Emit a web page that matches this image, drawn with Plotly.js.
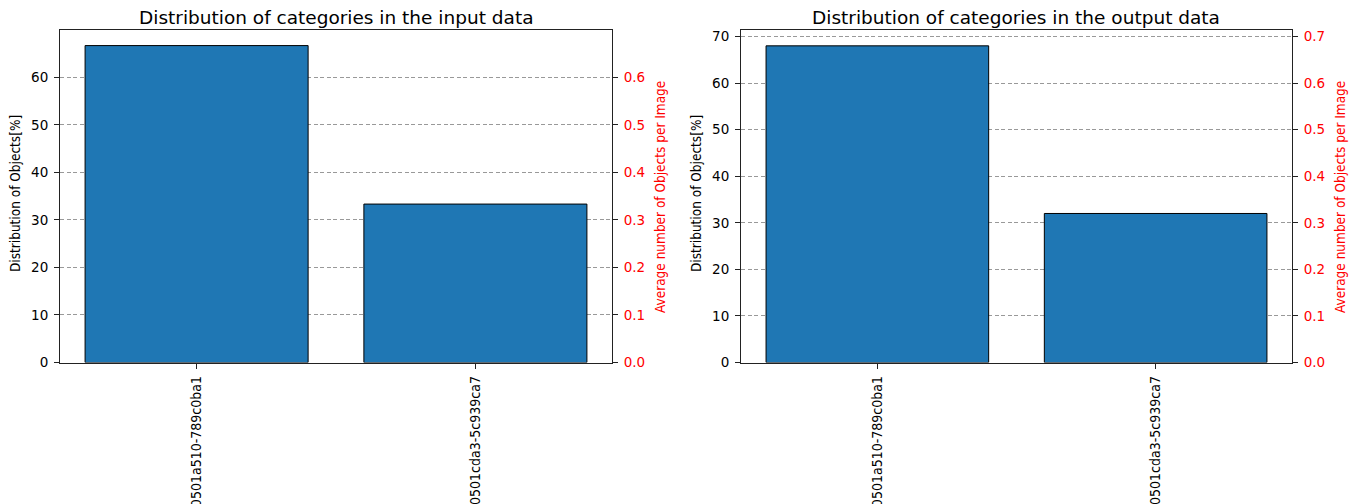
<!DOCTYPE html>
<html>
<head>
<meta charset="utf-8">
<script src="https://cdn.plot.ly/plotly-3.0.1.min.js"></script>
<style>html,body{margin:0;padding:0;background:#fff;}#chart{width:1356px;height:504px;}</style>
</head>
<body>
<div id="chart"></div>
<script>
const categories = ["0501a510-789c0ba1", "0501cda3-5c939ca7"];
const inputDistribution = [66.67, 33.33];
const outputDistribution = [68, 32];
const leftTickVals = [0, 10, 20, 30, 40, 50, 60, 70];
const rightTickVals = [0, 0.1, 0.2, 0.3, 0.4, 0.5, 0.6, 0.7];
const titles = ["Distribution of categories in the input data", "Distribution of categories in the output data"];
const yLeftTitle = "Distribution of Objects[%]";
const yRightTitle = "Average number of Objects per Image";

const W = 1356, H = 504;
const FONT = "DejaVu Sans";
const COND = "DejaVu Sans Condensed, DejaVu Sans";
const px = v => v / W;
const py = v => 1 - v / H;

const barStyle = {color: "#1f77b4", line: {color: "#000", width: 1}};
const traces = [
  {type: "bar", x: categories, y: inputDistribution, width: 0.8, marker: barStyle, xaxis: "x", yaxis: "y", hoverinfo: "none"},
  {type: "bar", x: categories, y: outputDistribution, width: 0.8, marker: barStyle, xaxis: "x2", yaxis: "y3", hoverinfo: "none"}
];

const spine = "#222";
function xAx(d0, d1, anchor) {
  return {domain: [px(d0), px(d1)], anchor: anchor, type: "category", range: [-0.49, 1.49],
    tickangle: -90, ticks: "outside", ticklen: 5, tickcolor: spine, showline: true, linecolor: spine, linewidth: 1,
    mirror: true, showgrid: false, automargin: false, ticklabelstandoff: 2,
    tickfont: {family: COND, size: 14, color: "#000"}};
}
function yLeft(anchor, top) {
  return {domain: [py(362.5), py(30)], anchor: anchor, range: [0, top], tickvals: leftTickVals,
    ticks: "outside", ticklen: 5, tickcolor: spine, showline: true, linecolor: spine, linewidth: 1,
    showgrid: true, gridcolor: "#999", gridwidth: 1, griddash: "4px,2.5px", zeroline: false, automargin: false,
    ticklabelstandoff: 3, tickfont: {family: FONT, size: 13.5, color: "#000"}};
}
function yRight(anchor, overlay, top) {
  return {domain: [py(362.5), py(30)], anchor: anchor, overlaying: overlay, side: "right", range: [0, top],
    tickvals: rightTickVals, tickformat: ".1f", ticks: "outside", ticklen: 5, tickcolor: spine, showline: true,
    linecolor: spine, linewidth: 1, showgrid: false, zeroline: false, automargin: false,
    ticklabelstandoff: 3, tickfont: {family: FONT, size: 13.5, color: "red"}};
}

const ann = [];
function addText(text, x, y, size, color, angle, family) {
  ann.push({text: text, xref: "paper", yref: "paper", x: px(x), y: py(y), xanchor: "center", yanchor: "middle",
    showarrow: false, textangle: angle, font: {family: family, size: size, color: color}});
}
addText(titles[0], 336, 18, 18.5, "#000", 0, FONT);
addText(titles[1], 1016, 18, 18.5, "#000", 0, FONT);
addText(yLeftTitle, 15, 194, 13.5, "#000", -90, COND);
addText(yRightTitle, 660, 197, 13.5, "red", -90, COND);
addText(yLeftTitle, 696, 194, 13.5, "#000", -90, COND);
addText(yRightTitle, 1340, 197, 13.5, "red", -90, COND);

// invisible traces to activate the right axes
traces.push({type: "scatter", x: [categories[0]], y: [0], xaxis: "x", yaxis: "y2", mode: "markers", marker: {opacity: 0}, hoverinfo: "none"});
traces.push({type: "scatter", x: [categories[0]], y: [0], xaxis: "x2", yaxis: "y4", mode: "markers", marker: {opacity: 0}, hoverinfo: "none"});

const layout = {
  width: W, height: H, margin: {l: 0, r: 0, t: 0, b: 0}, paper_bgcolor: "#fff", plot_bgcolor: "#fff",
  showlegend: false, font: {family: FONT},
  xaxis: xAx(60, 612, "y"),
  yaxis: yLeft("x", 69.95),
  yaxis2: yRight("x", "y", 0.6995),
  xaxis2: xAx(741, 1292, "y3"),
  yaxis3: yLeft("x2", 71.4),
  yaxis4: yRight("x2", "y3", 0.714),
  annotations: ann
};
Plotly.newPlot("chart", traces, layout, {displayModeBar: false, staticPlot: true});
</script>
</body>
</html>
